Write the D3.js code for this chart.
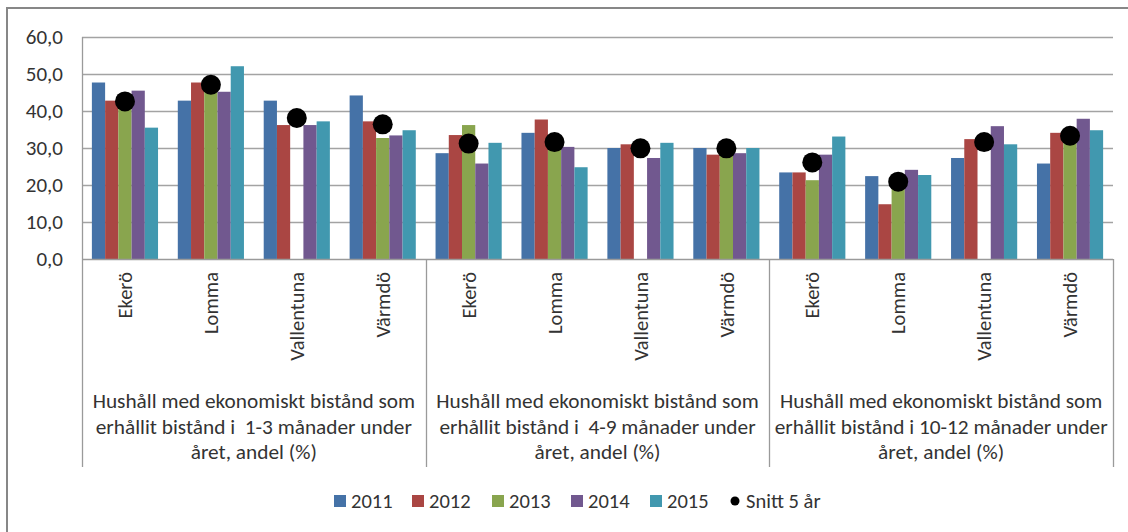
<!DOCTYPE html>
<html>
<head>
<meta charset="utf-8">
<script src="https://cdn.jsdelivr.net/npm/d3@7"></script>
<style>
  html, body { margin: 0; padding: 0; background: #fff; }
  svg { display: block; }
  text { font-family: Carlito, Calibri, Lato, "Open Sans", sans-serif; fill: #333; }
</style>
</head>
<body>
<svg id="chart" width="1128" height="532"></svg>
<script>
// Groups of measures (multi-line labels) and the municipalities within each
const groupLabels = [
  ["Hushåll med ekonomiskt bistånd som", "erhållit bistånd i  1-3 månader under", "året, andel (%)"],
  ["Hushåll med ekonomiskt bistånd som", "erhållit bistånd i  4-9 månader under", "året, andel (%)"],
  ["Hushåll med ekonomiskt bistånd som", "erhållit bistånd i 10-12 månader under", "året, andel (%)"]
];
const municipalities = ["Ekerö", "Lomma", "Vallentuna", "Värmdö"];

// Series names
const years = ["2011", "2012", "2013", "2014", "2015"];
const avgLabel = "Snitt 5 år";

// Values per year, 12 entries: 3 groups x 4 municipalities (null = no data)
const v2011 = [47.7, 42.8, 42.8, 44.2, 28.6, 34.1, 30.0, 30.0, 23.4, 22.4, 27.3, 25.8];
const v2012 = [42.8, 47.7, 36.2, 37.2, 33.5, 37.7, 31.0, 28.2, 23.4, 14.8, 32.4, 34.1];
const v2013 = [41.5, 47.7, null, 32.7, 36.2, 31.1, null, 31.5, 21.3, 20.5, null, 33.9];
const v2014 = [45.5, 45.2, 36.2, 33.4, 25.8, 30.3, 27.3, 28.6, 28.2, 24.1, 35.9, 37.9];
const v2015 = [35.5, 52.1, 37.2, 34.8, 31.4, 24.8, 31.4, 30.0, 33.1, 22.7, 31.0, 34.8];
// Five-year average
const snitt = [42.6, 47.1, 38.1, 36.4, 31.2, 31.6, 29.9, 29.9, 26.1, 20.9, 31.6, 33.3];

// Value axis ticks
const yTicks = [0, 10, 20, 30, 40, 50, 60];

const seriesValues = [v2011, v2012, v2013, v2014, v2015];
const colors = ["#4572A7", "#AA4643", "#89A54E", "#71588F", "#4198AF"];

const svg = d3.select("#chart");
const plot = { left: 82, right: 1113, top: 37, bottom: 259 };
const catBottom = 467;

// Category keys: one per group x municipality
const cats = [];
groupLabels.forEach((g, gi) => municipalities.forEach((m, mi) => cats.push({ key: gi + "-" + mi, gi, name: m })));

const x0 = d3.scaleBand().domain(cats.map(c => c.key)).range([plot.left, plot.right]).paddingInner(0.23).paddingOuter(0.115);
const x1 = d3.scaleBand().domain(years).range([0, x0.bandwidth()]);
const y = d3.scaleLinear().domain([0, 60]).range([plot.bottom, plot.top]);
const xStep = x0.step();
const catLeft = k => x0(cats[k].key) - x0.paddingInner() * xStep / 2;

// Outer frame
svg.append("rect").attr("x", 7).attr("y", 8).attr("width", 1140).attr("height", 540)
  .attr("fill", "#fff").attr("stroke", "#878787").attr("stroke-width", 2);

// Horizontal gridlines
svg.append("g").selectAll("line").data(yTicks.filter(t => t > 0)).join("line")
  .attr("x1", plot.left).attr("x2", plot.right)
  .attr("y1", d => Math.round(y(d)) + 0.5).attr("y2", d => Math.round(y(d)) + 0.5)
  .attr("stroke", "#a3a3a3").attr("stroke-width", 1.3);

// Value axis labels
const fmt = d => d3.format(".1f")(d).replace(".", ",");
svg.append("g").selectAll("text").data(yTicks).join("text")
  .attr("x", 63).attr("y", d => y(d)).attr("dy", "0.35em")
  .attr("text-anchor", "end").attr("font-size", 21).text(fmt);

// Bars
const barG = svg.append("g");
cats.forEach((c, k) => {
  seriesValues.forEach((vals, s) => {
    const v = vals[k];
    if (v == null) return;
    barG.append("rect")
      .attr("x", x0(c.key) + x1(years[s]))
      .attr("width", x1.bandwidth())
      .attr("y", y(v))
      .attr("height", y(0) - y(v))
      .attr("fill", colors[s]);
  });
});

// Axis lines and group separators
const axisG = svg.append("g").attr("stroke", "#9a9a9a").attr("stroke-width", 1.3);
axisG.append("line").attr("x1", plot.left).attr("x2", plot.right)
  .attr("y1", plot.bottom + 0.5).attr("y2", plot.bottom + 0.5);
axisG.append("line").attr("x1", plot.left + 0.5).attr("x2", plot.left + 0.5)
  .attr("y1", plot.top).attr("y2", catBottom);
const sepX = [4, 8].map(k => catLeft(k)).concat([plot.right]);
axisG.selectAll(".sep").data(sepX).join("line")
  .attr("x1", d => Math.round(d) + 0.5).attr("x2", d => Math.round(d) + 0.5)
  .attr("y1", plot.bottom).attr("y2", catBottom);

// Average markers
svg.append("g").selectAll("circle").data(cats).join("circle")
  .attr("cx", c => x0(c.key) + x0.bandwidth() / 2)
  .attr("cy", (c, k) => y(snitt[k]))
  .attr("r", 10).attr("fill", "#000");

// Municipality labels (rotated)
svg.append("g").selectAll("text").data(cats).join("text")
  .attr("transform", c => `translate(${x0(c.key) + x0.bandwidth() / 2},272) rotate(-90)`)
  .attr("dy", "0.35em").attr("text-anchor", "end").attr("font-size", 20.5)
  .text(c => c.name);

// Group labels
const groupW = xStep * 4;
groupLabels.forEach((lines, gi) => {
  const cx = plot.left + groupW * gi + groupW / 2;
  const t = svg.append("text").attr("text-anchor", "middle").attr("font-size", 21.3)
    .style("white-space", "pre");
  lines.forEach((ln, li) => {
    t.append("tspan").attr("x", cx).attr("y", 408 + li * 25.5).text(ln);
  });
});

// Legend
const legendItems = years.map((yr, i) => ({ label: yr, color: colors[i], type: "rect" }))
  .concat([{ label: avgLabel, color: "#000", type: "dot" }]);
const legendX = [334, 412, 492, 571, 650, 729];
const lg = svg.append("g");
legendItems.forEach((it, i) => {
  const gx = legendX[i];
  if (it.type === "rect") {
    lg.append("rect").attr("x", gx).attr("y", 495).attr("width", 12).attr("height", 12).attr("fill", it.color);
  } else {
    lg.append("circle").attr("cx", gx + 6).attr("cy", 501).attr("r", 4.5).attr("fill", it.color);
  }
  lg.append("text").attr("x", gx + 17).attr("y", 501).attr("dy", "0.35em")
    .attr("font-size", 20.5).text(it.label);
});
</script>
</body>
</html>
